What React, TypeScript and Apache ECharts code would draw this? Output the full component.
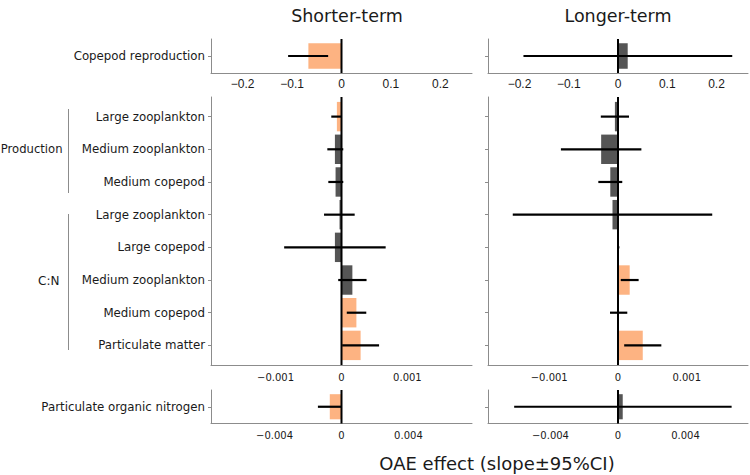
import React, { useEffect, useRef } from "react";
import * as echarts from "echarts";

// ---------- data ----------
const topCategories = ["Copepod reproduction"];
const midCategories = [
  "Large zooplankton",
  "Medium zooplankton",
  "Medium copepod",
  "Large zooplankton",
  "Large copepod",
  "Medium zooplankton",
  "Medium copepod",
  "Particulate matter",
];
const bottomCategories = ["Particulate organic nitrogen"];

// Shorter-term
const shortTopEst = [-0.067];
const shortTopLo = [-0.108];
const shortTopHi = [-0.027];
const shortTopSig = [true];

const shortMidEst = [-0.00007, -0.0001, -0.00009, -0.00003, -0.0001, 0.000165, 0.000226, 0.00029];
const shortMidLo = [-0.000155, -0.000215, -0.0002, -0.000265, -0.00087, -0.00005, 0.00008, 0.00001];
const shortMidHi = [0.0, 0.000027, 0.000027, 0.0002, 0.00067, 0.00038, 0.000376, 0.00057];
const shortMidSig = [true, false, false, false, false, false, true, true];

const shortBotEst = [-0.0007];
const shortBotLo = [-0.00141];
const shortBotHi = [0.0];
const shortBotSig = [true];

// Longer-term
const longTopEst = [0.0197];
const longTopLo = [-0.192];
const longTopHi = [0.232];
const longTopSig = [false];

const longMidEst = [-0.000045, -0.000245, -0.000112, -0.00008, 0.000005, 0.00017, 0.00001, 0.00036];
const longMidLo = [-0.00025, -0.00083, -0.000286, -0.00153, -0.00001, 0.00004, -0.000116, 0.00009];
const longMidHi = [0.00016, 0.00034, 0.000062, 0.00137, 0.00002, 0.0003, 0.000135, 0.00063];
const longMidSig = [false, false, false, false, false, true, false, true];

const longBotEst = [0.00028];
const longBotLo = [-0.00615];
const longBotHi = [0.00673];
const longBotSig = [false];

// tick labels
const topTicks = [-0.2, -0.1, 0, 0.1, 0.2];
const midTicks = [-0.001, 0, 0.001];
const botTicks = [-0.004, 0, 0.004];

const columnTitles = ["Shorter-term", "Longer-term"];
const xTitle = "OAE effect (slope±95%CI)";
const groupNames = ["Production", "C:N"];

// ---------- styles ----------
const ORANGE = "#FDB382";
const GREY = "#555555";
const AXIS = "#8c8c8c";
const TEXT = "#1a1a1a";

const fmt = (v: number) => (v < 0 ? "\u2212" + String(-v) : String(v));

function buildSeries(g: number, est: number[], lo: number[], hi: number[], sig: boolean[]) {
  const data = est.map((v, i) => [v, i + 1, lo[i], hi[i], sig[i] ? 1 : 0]);
  return [
    {
      type: "custom",
      xAxisIndex: g,
      yAxisIndex: g,
      z: 2,
      data,
      renderItem: (params: any, api: any) => {
        const v = api.value(0);
        const y = api.value(1);
        const p0 = api.coord([0, y]);
        const p1 = api.coord([v, y]);
        const h = api.size([0, 0.9])[1];
        return {
          type: "rect",
          shape: {
            x: Math.min(p0[0], p1[0]),
            y: p0[1] - h / 2,
            width: Math.abs(p1[0] - p0[0]),
            height: h,
          },
          style: { fill: api.value(4) ? ORANGE : GREY },
        };
      },
    },
    {
      type: "custom",
      xAxisIndex: g,
      yAxisIndex: g,
      z: 3,
      data,
      renderItem: (params: any, api: any) => {
        const y = api.value(1);
        const a = api.coord([api.value(2), y]);
        const b = api.coord([api.value(3), y]);
        return {
          type: "line",
          shape: { x1: a[0], y1: a[1], x2: b[0], y2: b[1] },
          style: { stroke: "#000", lineWidth: 2.2 },
        };
      },
    },
    {
      type: "custom",
      xAxisIndex: g,
      yAxisIndex: g,
      z: 4,
      data: [[0, 1]],
      renderItem: (params: any, api: any) => {
        const cs = params.coordSys;
        const x = api.coord([0, 1])[0];
        return {
          type: "line",
          shape: { x1: x, y1: cs.y, x2: x, y2: cs.y + cs.height },
          style: { stroke: "#000", lineWidth: 2 },
        };
      },
    },
  ];
}

export default function App() {
  const ref = useRef<HTMLDivElement>(null);

  useEffect(() => {
    if (!ref.current) return;
    const chart = echarts.init(ref.current, null, { renderer: "svg" });

    const grids = [
      { left: 211, top: 39, width: 261, height: 34 },
      { left: 488, top: 39, width: 260, height: 34 },
      { left: 211, top: 97, width: 261, height: 268 },
      { left: 488, top: 97, width: 260, height: 268 },
      { left: 211, top: 390, width: 261, height: 33.5 },
      { left: 488, top: 390, width: 260, height: 33.5 },
    ];

    const ranges = [0.264, 0.264, 0.00198, 0.00189, 0.0078, 0.0077];
    const ticks = [topTicks, topTicks, midTicks, midTicks, botTicks, botTicks];
    const cats = [topCategories, topCategories, midCategories, midCategories, bottomCategories, bottomCategories];

    const xAxis = grids.map((_, i) => ({
      type: "value",
      gridIndex: i,
      min: -ranges[i],
      max: ranges[i],
      axisLine: { show: true, onZero: false, lineStyle: { color: AXIS, width: 1 } },
      axisTick: { show: false },
      splitLine: { show: false },
      axisLabel: {
        customValues: ticks[i],
        formatter: (v: number) => fmt(v),
        fontFamily: i < 2 ? "Liberation Sans" : "DejaVu Sans",
        fontSize: i < 2 ? 12 : 10,
        color: TEXT,
        margin: i < 2 ? 5 : 7,
      },
    }));

    const yAxis = grids.map((_, i) => {
      const n = cats[i].length;
      const vals = cats[i].map((_, k) => k + 1);
      return {
        type: "value",
        gridIndex: i,
        min: 0.4,
        max: n + 0.6,
        inverse: true,
        axisLine: { show: true, onZero: false, lineStyle: { color: AXIS, width: 1 } },
        axisTick: { show: true, length: 3, customValues: vals, lineStyle: { color: AXIS } },
        splitLine: { show: false },
        axisLabel: {
          show: i % 2 === 0,
          customValues: vals,
          formatter: (v: number) => cats[i][Math.round(v) - 1] ?? "",
          fontFamily: "DejaVu Sans",
          fontSize: 11.8,
          color: TEXT,
          margin: 6,
        },
      };
    });

    const series = [
      ...buildSeries(0, shortTopEst, shortTopLo, shortTopHi, shortTopSig),
      ...buildSeries(1, longTopEst, longTopLo, longTopHi, longTopSig),
      ...buildSeries(2, shortMidEst, shortMidLo, shortMidHi, shortMidSig),
      ...buildSeries(3, longMidEst, longMidLo, longMidHi, longMidSig),
      ...buildSeries(4, shortBotEst, shortBotLo, shortBotHi, shortBotSig),
      ...buildSeries(5, longBotEst, longBotLo, longBotHi, longBotSig),
    ];

    const textStyle = (text: string, x: number, y: number, size: number, align: string) => ({
      type: "text",
      x,
      y,
      style: {
        text,
        fill: TEXT,
        fontFamily: "DejaVu Sans",
        fontSize: size,
        align,
        verticalAlign: "middle",
      },
    });

    const graphic = [
      textStyle(columnTitles[0], 347, 16, 17.5, "center"),
      textStyle(columnTitles[1], 618, 16, 17.5, "center"),
      textStyle(xTitle, 497, 463, 18, "center"),
      textStyle(groupNames[0], 62.5, 149, 11.6, "right"),
      textStyle(groupNames[1], 59.5, 281, 12, "right"),
      {
        type: "line",
        shape: { x1: 68.5, y1: 109, x2: 68.5, y2: 193 },
        style: { stroke: AXIS, lineWidth: 1 },
      },
      {
        type: "line",
        shape: { x1: 68.5, y1: 214, x2: 68.5, y2: 350 },
        style: { stroke: AXIS, lineWidth: 1 },
      },
    ];

    chart.setOption({
      animation: false,
      backgroundColor: "#ffffff",
      grid: grids.map((g) => ({ ...g, containLabel: false })),
      xAxis,
      yAxis,
      series,
      graphic,
    });

    return () => chart.dispose();
  }, []);

  return (
    <div
      ref={ref}
      style={{ position: "absolute", left: 0, top: 0, width: 750, height: 475 }}
    />
  );
}
